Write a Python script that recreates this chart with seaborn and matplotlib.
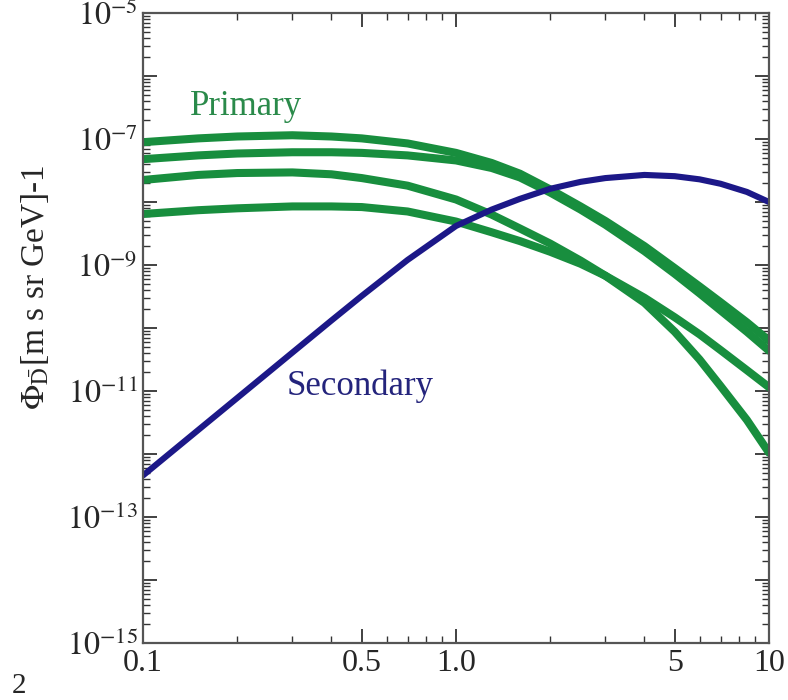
import matplotlib
matplotlib.use('Agg')
import matplotlib.pyplot as plt
import matplotlib.ticker as mticker
import seaborn as sns
import numpy as np

# kinetic energy per nucleon [GeV]
energy = [0.1, 0.15, 0.2, 0.3, 0.4, 0.5, 0.7, 1.0, 1.3, 1.6, 2, 2.5, 3, 4, 5, 6, 7, 8.5, 10]

# log10 of the primary antideuteron fluxes (four models)
log_primary_1 = [-7.05, -6.99, -6.96, -6.94, -6.96, -6.99, -7.07, -7.22, -7.38, -7.55,
                 -7.80, -8.07, -8.30, -8.70, -9.05, -9.34, -9.59, -9.91, -10.20]
log_primary_2 = [-7.32, -7.26, -7.23, -7.21, -7.21, -7.22, -7.26, -7.34, -7.46, -7.61,
                 -7.85, -8.12, -8.36, -8.78, -9.14, -9.45, -9.72, -10.06, -10.36]
log_primary_3 = [-7.65, -7.57, -7.54, -7.53, -7.56, -7.62, -7.74, -7.96, -8.20, -8.42,
                 -8.66, -8.93, -9.17, -9.60, -10.06, -10.50, -10.92, -11.46, -11.98]
log_primary_4 = [-8.19, -8.13, -8.10, -8.07, -8.07, -8.08, -8.15, -8.31, -8.48, -8.62,
                 -8.79, -8.98, -9.17, -9.52, -9.83, -10.10, -10.35, -10.67, -10.94]

# log10 of the secondary antideuteron flux
log_secondary = [-12.34, -11.62, -11.11, -10.39, -9.88, -9.49, -8.92, -8.38, -8.12, -7.95,
                 -7.79, -7.68, -7.62, -7.57, -7.59, -7.64, -7.71, -7.84, -8.00]

x_ticks = [0.1, 0.5, 1.0, 5, 10]
x_tick_labels = ['0.1', '0.5', '1.0', '5', '10']
x_minor = [0.2, 0.3, 0.4, 0.6, 0.7, 0.8, 0.9, 2, 3, 4, 6, 7, 8, 9]

green = '#188e3e'
navy = '#1c1888'

sns.set_style('ticks')
plt.rcParams['font.family'] = ['Liberation Serif', 'DejaVu Serif']
plt.rcParams['mathtext.fontset'] = 'stix'

fig = plt.figure(figsize=(7.88, 7.0), dpi=100)
ax = fig.add_axes([0.1815, 0.0814, 0.7944, 0.9])

for series in [log_primary_1, log_primary_2, log_primary_3, log_primary_4]:
    sns.lineplot(x=energy, y=np.power(10.0, series), ax=ax, color=green, lw=5.8,
                 solid_capstyle='round', solid_joinstyle='round')
sns.lineplot(x=energy, y=np.power(10.0, log_secondary), ax=ax, color=navy, lw=4.4,
             solid_capstyle='round', solid_joinstyle='round')

ax.set_xscale('log')
ax.set_yscale('log')
ax.set_xlim(0.1, 10)
ax.set_ylim(1e-15, 1e-5)

ax.xaxis.set_major_locator(mticker.FixedLocator(x_ticks))
ax.xaxis.set_major_formatter(mticker.FixedFormatter(x_tick_labels))
ax.xaxis.set_minor_locator(mticker.FixedLocator(x_minor))
ax.xaxis.set_minor_formatter(mticker.NullFormatter())

ax.yaxis.set_major_locator(mticker.LogLocator(base=10, numticks=20))
ax.yaxis.set_minor_locator(mticker.LogLocator(base=10, subs=np.arange(2, 10), numticks=20))
ax.yaxis.set_minor_formatter(mticker.NullFormatter())


def ylab(v, pos):
    n = int(round(np.log10(v)))
    return r'$10^{%d}$' % n if n % 2 != 0 else ''


ax.yaxis.set_major_formatter(mticker.FuncFormatter(ylab))

ax.tick_params(which='both', direction='in', top=True, right=True, color='#333333')
ax.tick_params(which='major', length=10, width=1.3, labelsize=23, pad=4)
ax.tick_params(which='minor', length=5, width=1.0)
for s in ax.spines.values():
    s.set_color('#555555')
    s.set_linewidth(1.6)

ax.set_xlabel('')
ax.set_ylabel('')

ax.text(0.141, 2.4e-7, 'Primary', color='#2a8a4a', fontsize=25, ha='left', va='baseline')
ax.text(0.288, 8.7e-12, 'Secondary', color='#24247c', fontsize=25, ha='left', va='baseline')

fig.text(0.045, 0.589, r'$\Phi_{\bar{\mathrm{D}}}$[m s sr GeV]-1', rotation=90,
         fontsize=24, ha='center', va='center')
fig.text(12 / 788, 1 - 693 / 700, '2', fontsize=21, ha='left', va='baseline')

fig.savefig('out.png', dpi=100)
